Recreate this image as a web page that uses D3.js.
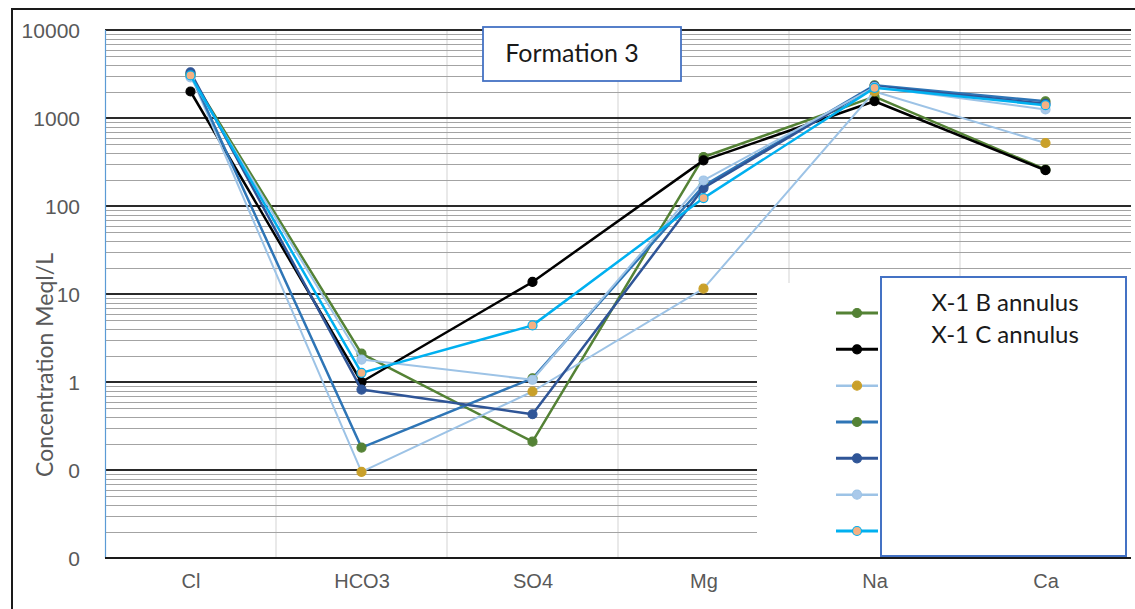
<!DOCTYPE html>
<html>
<head>
<meta charset="utf-8">
<script src="https://cdn.jsdelivr.net/npm/d3@7"></script>
<style>
  body { margin: 0; background: #fff; }
  svg { display: block; }
  .ylab, .xlab { fill: #595959; }
</style>
</head>
<body>
<script>
var categories = ["Cl", "HCO3", "SO4", "Mg", "Na", "Ca"];

var seriesNames = ["X-1 B annulus", "X-1 C annulus", "", "", "", "", ""];

// values in meq/L, one array per series, in category order
var greenVals     = [3000, 2.1, 0.21, 360, 1750, 260];
var blackVals     = [2000, 1.0, 13.7, 330, 1550, 255];
var goldVals      = [3100, 0.095, 0.78, 11.5, 2000, 520];
var medBlueVals   = [3200, 0.18, 1.1, 170, 2350, 1550];
var darkBlueVals  = [3300, 0.82, 0.43, 160, 2300, 1450];
var lightBlueVals = [2900, 1.8, 1.06, 195, 2250, 1250];
var cyanVals      = [3050, 1.27, 4.4, 123, 2200, 1400];

var yTickValues = [0.01, 0.1, 1, 10, 100, 1000, 10000];

var lineColors   = ["#548235", "#000000", "#9DC3E6", "#2E75B6", "#2F5597", "#9DC3E6", "#00B0F0"];
var markerColors = ["#548235", "#000000", "#C9A02A", "#548235", "#2F5597", "#A9C9EA", "#F4B183"];
var markerStroke = ["#548235", "#000000", "#C9A02A", "#548235", "#2F5597", "#9DC3E6", "#00B0F0"];
var lineWidths   = [2.5, 2.5, 2, 2.5, 2.5, 2, 2.5];

var allSeries = [greenVals, blackVals, goldVals, medBlueVals, darkBlueVals, lightBlueVals, cyanVals];

var width = 1135, height = 609;
var plotLeft = 105, plotRight = 1131, plotTop = 30, plotBottom = 558;

var svg = d3.select("body").append("svg")
    .attr("width", width)
    .attr("height", height);

// outer frame
svg.append("rect")
    .attr("x", 12).attr("y", 9)
    .attr("width", 1140).attr("height", 640)
    .attr("fill", "#fff")
    .attr("stroke", "#1a1a1a")
    .attr("stroke-width", 2);

var x = d3.scalePoint()
    .domain(categories)
    .range([plotLeft, plotRight])
    .padding(0.5);

var y = d3.scaleLog()
    .domain([0.01, 10000])
    .range([plotBottom, plotTop]);

// vertical grid lines between categories
var step = x.step();
svg.append("g").selectAll("line")
    .data(categories.slice(1))
    .enter().append("line")
    .attr("x1", function(d) { return x(d) - step / 2; })
    .attr("x2", function(d) { return x(d) - step / 2; })
    .attr("y1", plotTop).attr("y2", plotBottom)
    .attr("stroke", "#e2e2e2")
    .attr("stroke-width", 1.5);

// horizontal grid lines
var gridTicks = y.ticks();
var isMajor = function(d) { return Math.abs(Math.log10(d) - Math.round(Math.log10(d))) < 1e-6; };

svg.append("g").selectAll("line")
    .data(gridTicks.filter(function(d) { return !isMajor(d); }))
    .enter().append("line")
    .attr("x1", plotLeft).attr("x2", plotRight)
    .attr("y1", function(d) { return Math.round(y(d)) + 0.5; })
    .attr("y2", function(d) { return Math.round(y(d)) + 0.5; })
    .attr("stroke", "#a3a3a3")
    .attr("stroke-width", 1.2);

svg.append("g").selectAll("line")
    .data(yTickValues.filter(function(d) { return d > 0.01; }))
    .enter().append("line")
    .attr("x1", plotLeft).attr("x2", plotRight)
    .attr("y1", function(d) { return y(d); })
    .attr("y2", function(d) { return y(d); })
    .attr("stroke", "#2a2a2a")
    .attr("stroke-width", 1.8);

// left plot edge and bottom axis
svg.append("line")
    .attr("x1", plotLeft + 0.5).attr("x2", plotLeft + 0.5)
    .attr("y1", plotTop).attr("y2", plotBottom)
    .attr("stroke", "#5B9BD5").attr("stroke-width", 1.2);

svg.append("line")
    .attr("x1", plotLeft).attr("x2", plotRight)
    .attr("y1", plotBottom).attr("y2", plotBottom)
    .attr("stroke", "#1a1a1a").attr("stroke-width", 2);

// white area behind legend
svg.append("rect")
    .attr("x", 757).attr("y", 283)
    .attr("width", plotRight - 757).attr("height", plotBottom - 1 - 283)
    .attr("fill", "#fff");

// y axis labels
var yAxis = d3.axisLeft(y)
    .tickValues(yTickValues)
    .tickSize(0)
    .tickPadding(0)
    .tickFormat(function(d) { return d < 1 ? "0" : d3.format("d")(d); });

var yg = svg.append("g")
    .attr("transform", "translate(80,0)")
    .call(yAxis);
yg.select(".domain").remove();
yg.selectAll("text")
    .attr("class", "ylab")
    .attr("dy", "0.36em")
    .style("font-family", "'Liberation Sans', sans-serif")
    .style("font-size", "21px");

// x axis labels
var xAxis = d3.axisBottom(x).tickSize(0).tickPadding(0);
var xg = svg.append("g")
    .attr("transform", "translate(0," + plotBottom + ")")
    .call(xAxis);
xg.select(".domain").remove();
xg.selectAll("text")
    .attr("class", "xlab")
    .attr("y", 16)
    .style("font-family", "'Liberation Sans', sans-serif")
    .style("font-size", "20px");

// y axis title
svg.append("text")
    .attr("class", "xlab")
    .attr("transform", "translate(53,365) rotate(-90)")
    .attr("text-anchor", "middle")
    .style("font-family", "Lato, 'Open Sans', sans-serif")
    .style("font-size", "23px")
    .text("Concentration Meql/L");

// series lines and markers
var line = d3.line()
    .x(function(d, i) { return x(categories[i]); })
    .y(function(d) { return y(d); });

allSeries.forEach(function(vals, s) {
    var g = svg.append("g");
    g.append("path")
        .datum(vals)
        .attr("d", line)
        .attr("fill", "none")
        .attr("stroke", lineColors[s])
        .attr("stroke-width", lineWidths[s])
        .attr("stroke-linejoin", "round");
    g.selectAll("circle")
        .data(vals)
        .enter().append("circle")
        .attr("cx", function(d, i) { return x(categories[i]); })
        .attr("cy", function(d) { return y(d); })
        .attr("r", 4.5)
        .attr("fill", markerColors[s])
        .attr("stroke", markerStroke[s])
        .attr("stroke-width", 1.2);
});

// title box
svg.append("rect")
    .attr("x", 483).attr("y", 27)
    .attr("width", 198).attr("height", 54)
    .attr("fill", "#fff")
    .attr("stroke", "#4472C4")
    .attr("stroke-width", 1.8);

svg.append("text")
    .attr("x", 572).attr("y", 62)
    .attr("text-anchor", "middle")
    .style("font-family", "Lato, 'Open Sans', sans-serif")
    .style("font-size", "25px")
    .attr("fill", "#1a1a1a")
    .text("Formation 3");

// legend
var legend = svg.append("g");
var legendRows = d3.scaleLinear().domain([0, 6]).range([313, 531]);

allSeries.forEach(function(vals, s) {
    var ly = legendRows(s);
    legend.append("line")
        .attr("x1", 836).attr("x2", 878)
        .attr("y1", ly).attr("y2", ly)
        .attr("stroke", lineColors[s])
        .attr("stroke-width", lineWidths[s] + 0.5);
    legend.append("circle")
        .attr("cx", 857).attr("cy", ly)
        .attr("r", 4.5)
        .attr("fill", markerColors[s])
        .attr("stroke", markerStroke[s])
        .attr("stroke-width", 1.2);
});

legend.append("rect")
    .attr("x", 881).attr("y", 277)
    .attr("width", 245).attr("height", 279)
    .attr("fill", "#fff")
    .attr("stroke", "#4472C4")
    .attr("stroke-width", 2);

legend.selectAll("text.name")
    .data(seriesNames.filter(function(d) { return d; }))
    .enter().append("text")
    .attr("class", "name")
    .attr("x", 1005)
    .attr("y", function(d, i) { return 311 + i * 32; })
    .attr("text-anchor", "middle")
    .style("font-family", "Lato, 'Open Sans', sans-serif")
    .style("font-size", "24px")
    .attr("fill", "#1a1a1a")
    .text(function(d) { return d; });
</script>
</body>
</html>
